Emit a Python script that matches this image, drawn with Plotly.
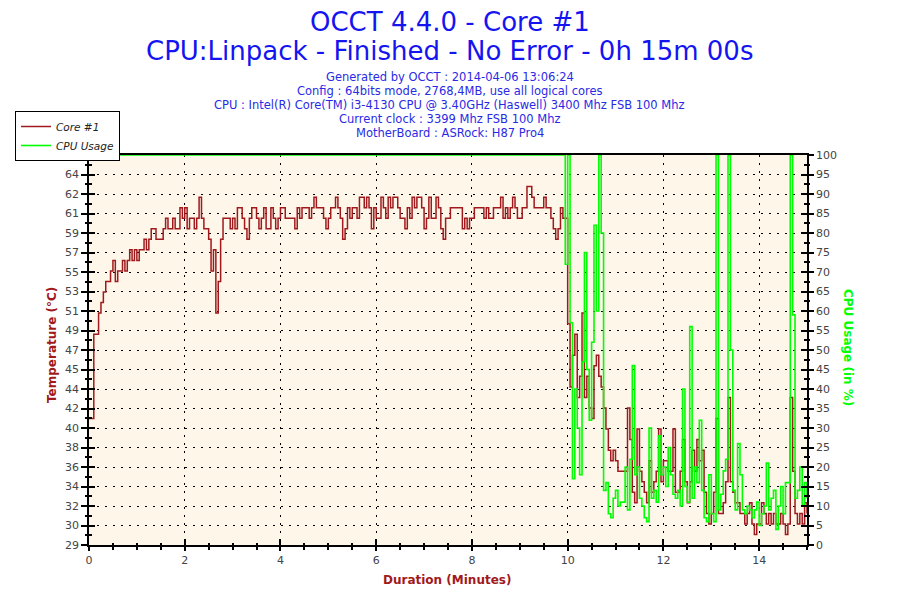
import numpy as np
import plotly.graph_objects as go

# sample step of the recording (minutes)
step = 0.05

# Core #1 temperature, one value every 3 s (0 .. 15 min)
core_temp = [
    41, 41, 49, 49, 51, 52, 53, 54, 54, 55, 56, 54, 55, 55, 56, 55, 56, 57, 56, 57,
    56, 57, 57, 58, 57, 58, 59, 59, 58, 58, 58, 59, 60, 59, 59, 60, 59, 59, 61, 60,
    61, 59, 60, 60, 59, 60, 62, 60, 59, 59, 58, 55, 57, 51, 54, 58, 60, 60, 60, 59,
    60, 59, 61, 61, 60, 59, 58, 60, 61, 61, 60, 59, 60, 61, 59, 59, 61, 60, 59, 60,
    61, 61, 60, 60, 60, 60, 59, 61, 60, 61, 61, 61, 60, 61, 62, 61, 61, 61, 60, 59,
    60, 61, 61, 62, 61, 60, 58, 59, 61, 60, 61, 61, 60, 62, 62, 61, 62, 61, 59, 61,
    60, 60, 62, 61, 60, 62, 61, 62, 62, 61, 60, 60, 59, 61, 60, 62, 61, 62, 62, 61,
    59, 60, 62, 60, 60, 62, 61, 59, 58, 60, 60, 61, 61, 61, 61, 61, 59, 60, 59, 60,
    60, 61, 61, 61, 61, 60, 61, 60, 60, 61, 61, 61, 62, 60, 61, 60, 61, 62, 61, 60,
    60, 61, 61, 63, 63, 62, 61, 61, 61, 61, 62, 61, 61, 60, 59, 58, 59, 61, 60, 60,
    50, 44, 47, 49, 43, 45, 51, 43, 45, 42, 41, 46, 47, 45, 44, 42, 40, 38, 37, 38,
    37, 36, 36, 36, 36, 42, 39, 34, 33, 40, 36, 35, 34, 33, 37, 34, 35, 36, 40, 35,
    37, 37, 36, 36, 40, 34, 34, 36, 39, 35, 33, 35, 38, 36, 39, 37, 38, 34, 32, 31,
    32, 34, 41, 32, 32, 33, 35, 43, 35, 34, 33, 33, 32, 32, 31, 32, 33, 31, 30, 31,
    31, 33, 32, 31, 32, 31, 32, 31, 31, 32, 31, 30, 31, 43, 36, 32, 31, 32, 31, 33,
    32,
]

# CPU usage in %, same sampling (100% load until the test ends near 10 min)
cpu_usage = [100] * 199 + [
    72,
    100, 57, 17, 40, 30, 18, 47, 75, 45, 32, 52, 82, 60, 100, 80, 14, 16, 8, 7, 12,
    14, 10, 11, 11, 20, 9, 22, 46, 18, 20, 12, 10, 7, 6, 30, 12, 14, 11, 28, 18,
    20, 15, 25, 18, 13, 12, 14, 10, 40, 15, 11, 56, 12, 20, 16, 32, 14, 7, 6, 18,
    8, 6, 100, 9, 13, 19, 22, 100, 50, 14, 9, 26, 18, 9, 8, 10, 9, 7, 9, 11,
    5, 8, 10, 21, 9, 12, 14, 4, 10, 15, 8, 16, 16, 100, 59, 12, 14, 20, 10, 16,
    12,
]

# left axis: 20 equal steps from 29 to 66, labels as printed by OCCT
temp_min, temp_max = 29, 66
temp_labels = ["29", "30", "32", "34", "36", "38", "40", "42", "44", "45", "47",
               "49", "51", "53", "55", "57", "59", "61", "62", "64", "66"]

title_lines = ["OCCT 4.4.0 - Core #1",
               "CPU:Linpack - Finished - No Error - 0h 15m 00s"]
info_lines = [
    "Generated by OCCT : 2014-04-06 13:06:24",
    "Config : 64bits mode, 2768,4MB, use all logical cores",
    "CPU : Intel(R) Core(TM) i3-4130 CPU @ 3.40GHz (Haswell) 3400 Mhz FSB 100 Mhz",
    "Current clock : 3399 Mhz FSB 100 Mhz",
    "MotherBoard : ASRock: H87 Pro4",
]

minutes = np.round(np.arange(len(core_temp)) * step, 2)

RED = '#A0191C'
GREEN = '#00FF00'
BLUE = '#1414F0'
FONT = 'DejaVu Sans'

# the page adds an 8px body margin, so the figure is drawn 8px smaller
OFF = 8
W, H = 900 - OFF, 600 - OFF
# plot area in page pixels
L, R, T, B = 89, 807, 155, 545


def px(x):
    return (x - L) / (R - L)


def py(y):
    return (B - y) / (B - T)


temp_ticks = np.linspace(temp_min, temp_max, len(temp_labels))
temp_minor = (temp_max - temp_min) / 40

fig = go.Figure()

fig.add_trace(go.Scatter(
    x=minutes, y=core_temp, name='Core #1', mode='lines',
    line=dict(color=RED, width=1.5, shape='hv'),
))
fig.add_trace(go.Scatter(
    x=minutes, y=cpu_usage, name='CPU Usage', mode='lines', yaxis='y2',
    line=dict(color=GREEN, width=1.6, shape='hv'),
))
# empty traces so the extra tick-only axes (inner half of the ticks) get drawn
for xa, ya in [('x', 'y3'), ('x2', 'y'), ('x', 'y4')]:
    fig.add_trace(go.Scatter(x=[None], y=[None], xaxis=xa, yaxis=ya,
                             showlegend=False, hoverinfo='skip'))

annotations = []
for i, txt in enumerate(title_lines):
    annotations.append(dict(text=txt, x=px(450), y=py([22, 51][i]),
                            font=dict(family=FONT, size=26, color=BLUE)))
for i, txt in enumerate(info_lines):
    annotations.append(dict(text=txt, x=px(450), y=py(77 + i * 14),
                            font=dict(family=FONT, size=11.5, color='#2A2AE6')))
annotations.append(dict(text='<b>Temperature (°C)</b>', x=px(52), y=py(345),
                        textangle=-90, font=dict(family=FONT, size=12, color=RED)))
annotations.append(dict(text='<b>CPU Usage (in %)</b>', x=px(848), y=py(347),
                        textangle=90, font=dict(family=FONT, size=12, color=GREEN)))
annotations.append(dict(text='<b>Duration (Minutes)</b>', x=px(447), y=py(580),
                        font=dict(family=FONT, size=12, color=RED)))
for a in annotations:
    a.update(xref='paper', yref='paper', showarrow=False,
             xanchor='center', yanchor='middle')

tickfont = dict(family=FONT, size=11, color='#444444')
dotted = '2px,6px'

fig.update_layout(
    width=W, height=H,
    margin=dict(l=L - OFF, r=900 - R, t=T - OFF, b=600 - B, autoexpand=False),
    paper_bgcolor='white',
    plot_bgcolor='#FDF6E9',
    annotations=annotations,
    showlegend=True,
    legend=dict(
        x=px(15), y=py(111), xanchor='left', yanchor='top',
        bgcolor='white', bordercolor='black', borderwidth=1,
        font=dict(family=FONT, size=10.5, color='#222222', style='italic'),
        tracegroupgap=0, itemwidth=30,
    ),
    xaxis=dict(
        range=[0, 15], tick0=0, dtick=2,
        showline=True, linecolor='black', linewidth=1.5, mirror=True,
        ticks='outside', ticklen=4, tickcolor='black', tickwidth=1.5,
        showgrid=True, gridcolor='black', griddash=dotted, gridwidth=1,
        zeroline=False, tickfont=tickfont,
        minor=dict(tick0=0, dtick=0.5, ticks='outside', ticklen=3,
                   tickcolor='black', showgrid=False),
    ),
    xaxis2=dict(
        range=[0, 15], tick0=0, dtick=2, overlaying='x', anchor='y',
        ticks='inside', ticklen=6, tickcolor='black', tickwidth=1.5,
        showticklabels=False, showgrid=False, showline=False, zeroline=False,
        minor=dict(tick0=0, dtick=0.5, ticks='inside', ticklen=2,
                   tickcolor='black', showgrid=False),
    ),
    yaxis=dict(
        range=[temp_min, temp_max],
        tickmode='array', tickvals=temp_ticks, ticktext=temp_labels,
        showline=True, linecolor='black', linewidth=1.5,
        ticks='outside', ticklen=6, tickcolor='black', tickwidth=1.5,
        showgrid=True, gridcolor='black', griddash=dotted, gridwidth=1,
        zeroline=False, tickfont=tickfont,
        minor=dict(tick0=temp_min, dtick=temp_minor, ticks='outside',
                   ticklen=2, tickcolor='black', showgrid=False),
    ),
    yaxis3=dict(
        range=[temp_min, temp_max], overlaying='y', side='left', anchor='x',
        tickmode='array', tickvals=temp_ticks,
        ticks='inside', ticklen=6, tickcolor='black', tickwidth=1.5,
        showticklabels=False, showgrid=False, showline=False, zeroline=False,
        minor=dict(tick0=temp_min, dtick=temp_minor, ticks='inside',
                   ticklen=3, tickcolor='black', showgrid=False),
    ),
    yaxis2=dict(
        range=[0, 100], tick0=0, dtick=5, overlaying='y', side='right',
        showline=True, linecolor='black', linewidth=1.5,
        ticks='outside', ticklen=5, tickcolor='black', tickwidth=1.5,
        showgrid=False, zeroline=False, tickfont=tickfont,
        minor=dict(tick0=0, dtick=2.5, ticks='outside', ticklen=1,
                   tickcolor='black', showgrid=False),
    ),
    yaxis4=dict(
        range=[0, 100], tick0=0, dtick=5, overlaying='y', side='right',
        anchor='x',
        ticks='inside', ticklen=6, tickcolor='black', tickwidth=1.5,
        showticklabels=False, showgrid=False, showline=False, zeroline=False,
        minor=dict(tick0=0, dtick=2.5, ticks='inside', ticklen=3,
                   tickcolor='black', showgrid=False),
    ),
)

fig.write_html("out.html")
